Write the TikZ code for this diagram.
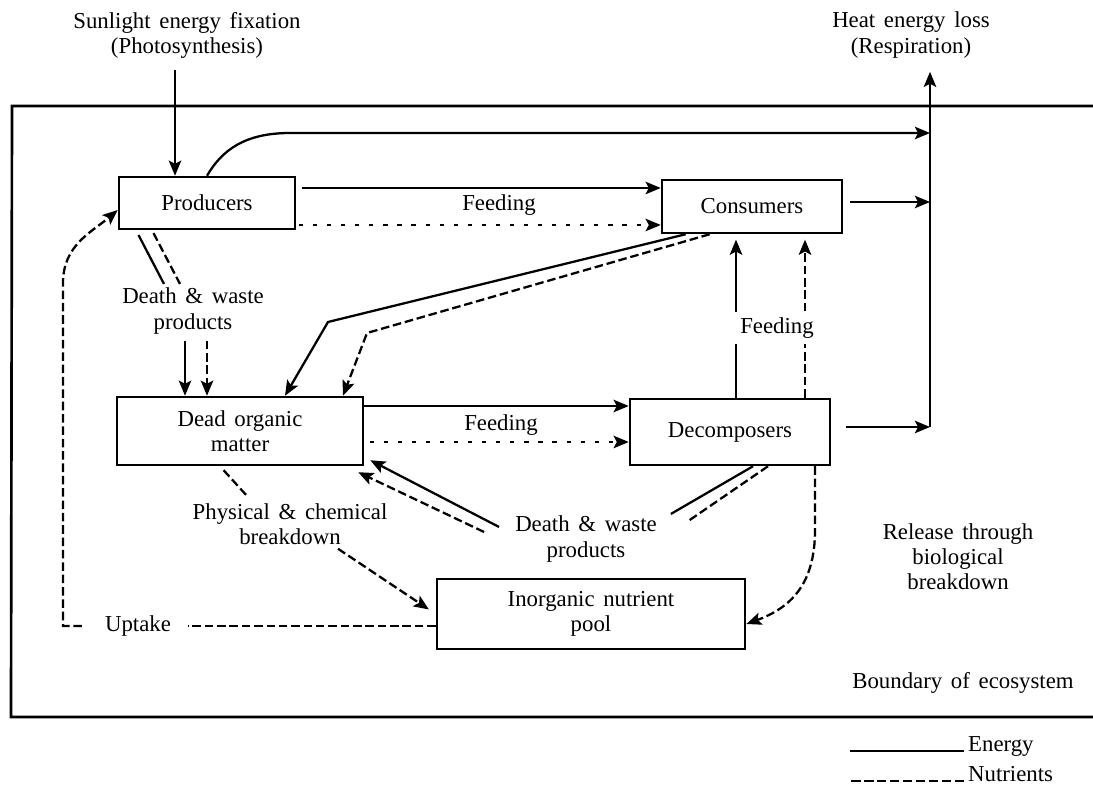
\documentclass[tikz,border=0pt]{standalone}
\usepackage{fontspec}
\setmainfont{Liberation Serif}
\usetikzlibrary{arrows.meta,calc}

\begin{document}
\begin{tikzpicture}[
    x=0.0185cm, y=-0.0185cm,
    font={\fontsize{12}{13.2}\selectfont\spaceskip=0.38em\relax},
    box/.style={draw, line width=1.3pt, align=center, inner sep=2pt},
    lbl/.style={align=center, inner sep=2pt},
    energy/.style={-{Stealth[length=2.8mm,width=2.3mm,inset=0.6mm]}, line width=1.2pt},
    nutrient/.style={energy, dash pattern=on 4.5pt off 2pt},
    feeddot/.style={energy, dash pattern=on 2.2pt off 5.2pt},
    eline/.style={line width=1.2pt},
    nline/.style={eline, dash pattern=on 4.5pt off 2pt}
]
\useasboundingbox (0,0) rectangle (1093,788);

% boundary of ecosystem (open to the right)
\draw[line width=1.4pt] (1093,106) -- (12,106) -- (11,717) -- (1093,717);

% compartments
\node[box, minimum width=3.256cm, minimum height=0.962cm] (Producers) at (207,203) {Producers};
\node[box, minimum width=3.33cm, minimum height=0.98cm] (Consumers) at (752,206.5) {Consumers};
\node[box, minimum width=4.55cm, minimum height=1.258cm] (Dead) at (240,431) {Dead organic\\matter};
\node[box, minimum width=3.7cm, minimum height=1.221cm] (Decomposers) at (730,432) {Decomposers};
\node[box, minimum width=5.7cm, minimum height=1.295cm] (Inorganic) at (591,614) {Inorganic nutrient\\pool};

% labels
\node[lbl] (sun) at (187,35) {Sunlight energy fixation\\(Photosynthesis)};
\node[lbl] (heat) at (911,35) {Heat energy loss\\(Respiration)};
\node[lbl] (deathP) at (193,311) {Death \& waste\\products};
\node[lbl] (deathD) at (586,539) {Death \& waste\\products};
\node[lbl] (breakdown) at (290,524) {Physical \& chemical\\breakdown};
\node[lbl] (feedPC) at (499,205) {Feeding};
\node[lbl] (feedDD) at (501,425) {Feeding};
\node[lbl] (uptake) at (138,626) {Uptake};
\node[lbl] (release) at (958,557) {Release through\\biological\\breakdown};
\node[lbl] (boundary) at (963,683) {Boundary of ecosystem};

\coordinate (heatbot) at (930,427);

% energy in and out
\draw[energy, shorten <=1.5mm] (sun.south -| 175,0) -- (Producers.north -| 175,0);
\draw[energy, shorten >=1.8mm] (heatbot) -- (heat.south -| heatbot);
\draw[energy] (Producers.north) .. controls (222,150) and (245,133) .. (290,133) -- (heatbot |- 0,133);
\draw[energy, shorten <=1.3mm] (Consumers.east |- 0,202) -- (heatbot |- 0,202);
\draw[energy, shorten <=2.8mm] (Decomposers.east |- 0,427) -- (heatbot);

% feeding
\draw[energy, shorten <=1mm] (Producers.east |- 0,188) -- (Consumers.west |- 0,188);
\draw[feeddot, shorten <=0.5mm] (Producers.east |- 0,225) -- (Consumers.west |- 0,225);
\draw[energy] (Dead.east |- 0,406) -- (Decomposers.west |- 0,406);
\draw[feeddot, shorten <=1mm] (Dead.east |- 0,442) -- (Decomposers.west |- 0,442);
\draw[energy, shorten >=1mm] (Decomposers.north -| 736,0) -- (Consumers.south -| 736,0);
\draw[nutrient, shorten >=1mm] (Decomposers.north -| 805,0) -- (Consumers.south -| 805,0);
\node[lbl, fill=white, inner sep=3.2pt] (feedDC) at (777,328) {Feeding};

% death & waste
\draw[eline, shorten <=1mm] (Producers.south -| 136,0) -- (deathP.north -| 164,0);
\draw[nline, shorten <=0.6mm] (Producers.south -| 152,0) -- (deathP.north -| 180,0);
\draw[energy, shorten <=0.5mm] (deathP.south -| 185,0) -- (Dead.north -| 185,0);
\draw[nutrient, shorten <=0.5mm] (deathP.south -| 207,0) -- (Dead.north -| 207,0);
\draw[energy] ($(Consumers.south west)+(25,0)$) -- (328,322) -- (Dead.north -| 285,0);
\draw[nutrient] ($(Consumers.south west)+(49,0)$) -- (367,333) -- (Dead.north -| 343,0);
\draw[eline] (Decomposers.south -| 753,0) -- ($(deathD.north east)+(10,2)$);
\draw[nline] (Decomposers.south -| 768,0) -- ($(deathD.north east)+(26,10)$);
\draw[energy] ($(deathD.west)+(-12,-12)$) -- ($(Dead.south east)+(6,-6)$);
\draw[nutrient] ($(deathD.west)+(-27,-7)$) -- ($(Dead.south east)+(-6,6)$);

% nutrient cycling
\draw[nline, shorten <=1mm, shorten >=1mm] (Dead.south -| 220,0) -- (breakdown.north -| 250,0);
\draw[nutrient, shorten >=1.5mm] (breakdown.south -| 338,0) -- (Inorganic.west);
\draw[nutrient] (Decomposers.south -| 815,0) -- (815,530) .. controls (815,585) and (790,608) .. (Inorganic.east |- 0,624);
\draw[nline, shorten >=0.24cm] (Inorganic.west |- uptake) -- (uptake);
\draw[nutrient, shorten <=0.35cm] (uptake) -- (63,626) -- (63,283) .. controls (63,245) and (92,232) .. (Producers.west |- 0,210);

% key
\node[anchor=base west, inner sep=2pt] (keyE) at (964,751) {Energy};
\node[anchor=base west, inner sep=2pt] (keyN) at (964,781) {Nutrients};
\draw[line width=0.9pt] (keyE.base west) -- ++(-114,0);
\draw[line width=0.9pt, dash pattern=on 5pt off 1.8pt] (keyN.base west) -- ++(-114,0);
\end{tikzpicture}
\end{document}
